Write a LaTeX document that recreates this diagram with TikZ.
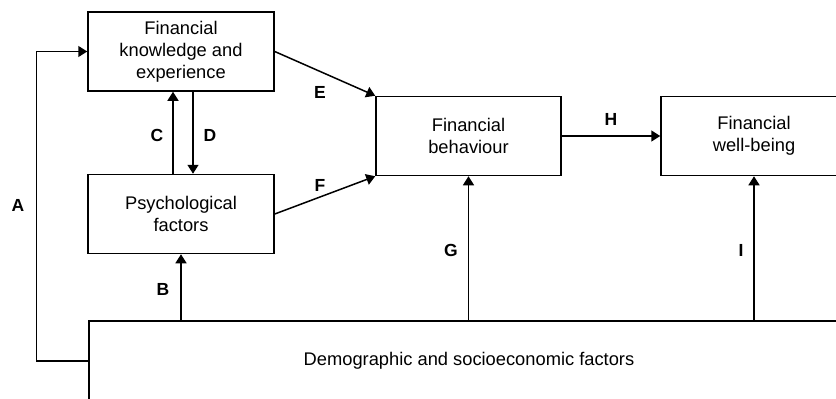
\documentclass[tikz,border=0pt]{standalone}
\usepackage{fontspec}
\setmainfont{Liberation Sans}
\usetikzlibrary{arrows.meta}

\tikzset{
    factor/.style={draw, rectangle, line width=1.5pt, align=center, inner sep=0pt,
        minimum width=186pt, minimum height=79pt, font=\fontsize{18.3}{22}\selectfont},
    link/.style={line width=1.5pt, -{Triangle[length=9pt,width=11pt]}},
    pathlabel/.style={font=\fontsize{17.5}{20}\selectfont\bfseries}
}

\begin{document}
\begin{tikzpicture}[x=1pt, y=-1pt]
    \useasboundingbox (0,0) rectangle (836,399);
    \clip (0,0) rectangle (836,399);

    % boxes
    \node[factor] (know) at (181,51.5) {Financial\\knowledge and\\experience};
    \node[factor] (psych) at (181,214) {Psychological\\factors};
    \node[factor, minimum width=185pt] (behav) at (468.5,136) {Financial\\behaviour};
    \node[factor] (well) at (754,136) {Financial\\well-being};
    \node[factor, minimum width=760pt, minimum height=80pt] (demo) at (469,361)
        {Demographic and socioeconomic factors};

    % connectors
    \draw[link] (demo.west) -- ++(-52,0) |- (know.west);
    \draw[link] ([xshift=-8pt]psych.north) -- ([xshift=-8pt]know.south);
    \draw[link] ([xshift=12pt]know.south) -- ([xshift=12pt]psych.north);
    \draw[link] (know.east) -- (behav.north west);
    \draw[link] (psych.east) -- (behav.south west);
    \draw[link] (psych.south |- demo.north) -- (psych.south);
    \draw[link] (behav.south |- demo.north) -- (behav.south);
    \draw[link] (behav.east) -- (well.west);
    \draw[link] (well.south |- demo.north) -- (well.south);

    % labels
    \node[pathlabel] (labA) at (18,205) {A};
    \node[pathlabel] (labB) at (163,289) {B};
    \node[pathlabel] (labC) at (157,135) {C};
    \node[pathlabel] (labD) at (210,135) {D};
    \node[pathlabel] (labE) at (320,92) {E};
    \node[pathlabel] (labF) at (320,185) {F};
    \node[pathlabel] (labG) at (451,250) {G};
    \node[pathlabel] (labH) at (611,119) {H};
    \node[pathlabel] (labI) at (741,250) {I};
\end{tikzpicture}
\end{document}
